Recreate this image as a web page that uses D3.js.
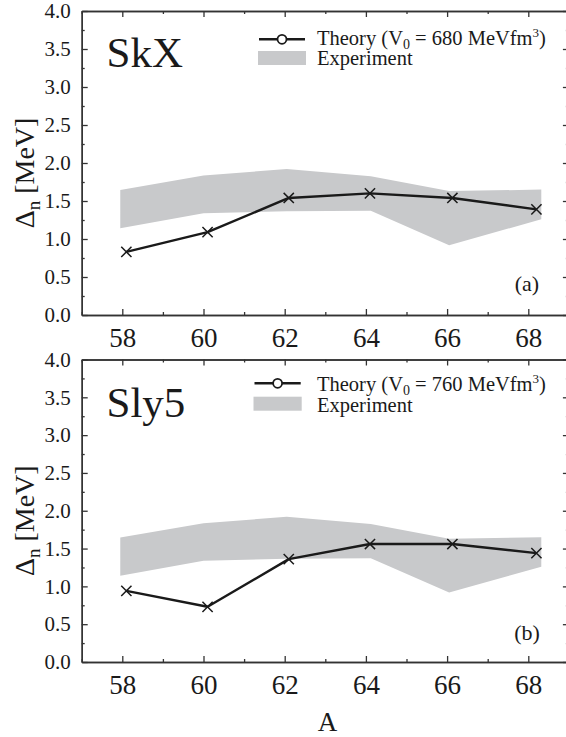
<!DOCTYPE html>
<html>
<head>
<meta charset="utf-8">
<script src="https://cdn.jsdelivr.net/npm/d3@7/dist/d3.min.js"></script>
<style>
  html, body { margin: 0; padding: 0; background: #fff; }
  svg { display: block; }
  text { font-family: "Liberation Serif", "DejaVu Serif", serif; fill: #1a1a1a; }
</style>
</head>
<body>
<svg id="chart" width="566" height="737" font-family="Liberation Serif"></svg>
<script>
// Mass number A of each calculated nucleus
const massNumbers = [58.1, 60.1, 62.1, 64.1, 66.13, 68.2];
// Theoretical neutron pairing gaps (MeV)
const theorySkX  = [0.83, 1.09, 1.54, 1.60, 1.54, 1.39];
const theorySly5 = [0.94, 0.73, 1.36, 1.56, 1.56, 1.44];
// Experimental band: A, lower and upper bound (MeV)
const expA     = [57.95, 60.0, 62.05, 64.12, 66.05, 68.32];
const expLower = [1.14, 1.34, 1.365, 1.373, 0.918, 1.26];
const expUpper = [1.645, 1.835, 1.92, 1.825, 1.63, 1.65];
// Axis ticks
const xMajorTicks = [58, 60, 62, 64, 66, 68];
const xMinorTicks = [57, 59, 61, 63, 65, 67, 69];
const yMajorTicks = [0, 0.5, 1.0, 1.5, 2.0, 2.5, 3.0, 3.5, 4.0];
const yMinorTicks = [0.25, 0.75, 1.25, 1.75, 2.25, 2.75, 3.25, 3.75];

const panels = [
  { force: "SkX",  theory: theorySkX,  tag: "(a)", v0: "680",
    top: 11, bottom: 315,
    nameY: 66.7, legLineY: 39.3, legX0: 259, legX1: 305, legTextY: 44.5,
    rectY: 51, expTextY: 65, tagY: 291 },
  { force: "Sly5", theory: theorySly5, tag: "(b)", v0: "760",
    top: 359.5, bottom: 662,
    nameY: 417.3, legLineY: 383.3, legX0: 254.5, legX1: 300.7, legTextY: 391,
    rectY: 396.7, expTextY: 411.7, tagY: 640 }
];

const svg = d3.select("#chart");
const x = d3.scaleLinear().domain([57, 69]).range([81.7, 568.9]);
const axisColor = "#333";

function styleAxis(g) {
  g.selectAll("path.domain").attr("stroke", axisColor).attr("stroke-width", 1.4);
  g.selectAll(".tick line").attr("stroke", axisColor).attr("stroke-width", 1.3);
  g.selectAll(".tick text").attr("fill", "#1a1a1a");
}

panels.forEach(p => {
  const y = d3.scaleLinear().domain([0, 4]).range([p.bottom, p.top]);
  const g = svg.append("g");

  // experimental band
  const band = expA.map((a, i) => ({ a, lo: expLower[i], hi: expUpper[i] }));
  g.append("path")
    .datum(band)
    .attr("fill", "#c8c9cb")
    .attr("d", d3.area().x(d => x(d.a)).y0(d => y(d.lo)).y1(d => y(d.hi)));

  // theory line
  const pts = massNumbers.map((a, i) => ({ a, v: p.theory[i] }));
  g.append("path")
    .datum(pts)
    .attr("fill", "none")
    .attr("stroke", "#1a1a1a")
    .attr("stroke-width", 2.4)
    .attr("stroke-linejoin", "round")
    .attr("d", d3.line().x(d => x(d.a)).y(d => y(d.v)));

  // cross markers
  g.selectAll(".cross").data(pts).join("path")
    .attr("class", "cross")
    .attr("transform", d => `translate(${x(d.a)},${y(d.v)})`)
    .attr("d", d3.symbol().type(d3.symbolTimes).size(70))
    .attr("fill", "none")
    .attr("stroke", "#1a1a1a")
    .attr("stroke-width", 1.5);

  // axes: bottom
  const bottomMajor = g.append("g").attr("transform", `translate(0,${p.bottom})`)
    .call(d3.axisBottom(x).tickValues(xMajorTicks).tickSize(-6).tickSizeOuter(0)
      .tickPadding(12.5).tickFormat(d3.format("d")));
  bottomMajor.attr("font-size", 27).attr("font-family", "Liberation Serif");
  styleAxis(bottomMajor);
  const bottomMinor = g.append("g").attr("transform", `translate(0,${p.bottom})`)
    .call(d3.axisBottom(x).tickValues(xMinorTicks).tickSize(-3).tickSizeOuter(0).tickFormat(""));
  styleAxis(bottomMinor);

  // top
  const topMajor = g.append("g").attr("transform", `translate(0,${p.top})`)
    .call(d3.axisTop(x).tickValues(xMajorTicks).tickSize(-6).tickSizeOuter(0).tickFormat(""));
  styleAxis(topMajor);
  const topMinor = g.append("g").attr("transform", `translate(0,${p.top})`)
    .call(d3.axisTop(x).tickValues(xMinorTicks).tickSize(-3).tickSizeOuter(0).tickFormat(""));
  styleAxis(topMinor);

  // left
  const leftMajor = g.append("g").attr("transform", `translate(${x(57)},0)`)
    .call(d3.axisLeft(y).tickValues(yMajorTicks).tickSize(-6).tickSizeOuter(0)
      .tickPadding(11).tickFormat(d3.format(".1f")));
  leftMajor.attr("font-size", 21).attr("font-family", "Liberation Serif");
  styleAxis(leftMajor);
  const leftMinor = g.append("g").attr("transform", `translate(${x(57)},0)`)
    .call(d3.axisLeft(y).tickValues(yMinorTicks).tickSize(-3).tickSizeOuter(0).tickFormat(""));
  styleAxis(leftMinor);

  // right
  const rightMajor = g.append("g").attr("transform", `translate(${x(69)},0)`)
    .call(d3.axisRight(y).tickValues(yMajorTicks).tickSize(-6).tickSizeOuter(0).tickFormat(""));
  styleAxis(rightMajor);
  const rightMinor = g.append("g").attr("transform", `translate(${x(69)},0)`)
    .call(d3.axisRight(y).tickValues(yMinorTicks).tickSize(-3).tickSizeOuter(0).tickFormat(""));
  styleAxis(rightMinor);

  // force name
  g.append("text")
    .attr("x", 106.5).attr("y", p.nameY)
    .attr("font-size", 43)
    .text(p.force);

  // panel tag
  g.append("text")
    .attr("x", 527).attr("y", p.tagY)
    .attr("text-anchor", "middle")
    .attr("font-size", 22)
    .text(p.tag);

  // legend: theory
  g.append("line")
    .attr("x1", p.legX0).attr("x2", p.legX1)
    .attr("y1", p.legLineY).attr("y2", p.legLineY)
    .attr("stroke", "#1a1a1a").attr("stroke-width", 2.6);
  g.append("circle")
    .attr("cx", (p.legX0 + p.legX1) / 2).attr("cy", p.legLineY)
    .attr("r", 4.5)
    .attr("fill", "#fff").attr("stroke", "#1a1a1a").attr("stroke-width", 1.8);
  const t = g.append("text").attr("x", 317).attr("y", p.legTextY).attr("font-size", 20.5);
  t.append("tspan").text("Theory (V");
  t.append("tspan").attr("font-size", 14).attr("dy", 4).text("0");
  t.append("tspan").attr("dy", -4).text(` = ${p.v0} MeVfm`);
  t.append("tspan").attr("font-size", 13).attr("dy", -8).text("3");
  t.append("tspan").attr("dy", 8).text(")");

  // legend: experiment
  g.append("rect")
    .attr("x", p.legX0 - 1).attr("y", p.rectY)
    .attr("width", p.legX1 - p.legX0 + 2).attr("height", 14)
    .attr("fill", "#c8c9cb");
  g.append("text").attr("x", 317).attr("y", p.expTextY).attr("font-size", 20.5).text("Experiment");

  // y-axis title
  const cy = (p.top + p.bottom) / 2 + 10;
  const yt = g.append("text")
    .attr("transform", `translate(34,${cy}) rotate(-90)`)
    .attr("text-anchor", "middle")
    .attr("font-size", 28);
  yt.append("tspan").text("Δ");
  yt.append("tspan").attr("font-size", 19).attr("dy", 6).text("n");
  yt.append("tspan").attr("dy", -6).text(" [MeV]");
});

// x-axis title
svg.append("text")
  .attr("x", 327.6).attr("y", 730.5)
  .attr("text-anchor", "middle")
  .attr("font-size", 27)
  .text("A");
</script>
</body>
</html>
